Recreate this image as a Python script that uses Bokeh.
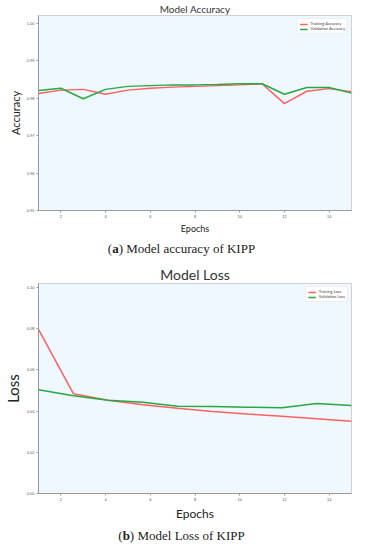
from bokeh.plotting import figure
from bokeh.layouts import column
from bokeh.models import Div, FixedTicker, Range1d, Legend
from bokeh.embed import file_html
from bokeh.resources import INLINE

# ---- data: accuracy ----
acc_epochs = [1, 2, 3, 4, 5, 6, 7, 8, 9, 10, 11, 12, 13, 14, 15]
train_acc = [0.9812, 0.9821, 0.9823, 0.9810, 0.9821, 0.9826, 0.9829, 0.9831,
             0.9833, 0.9835, 0.9838, 0.9785, 0.9818, 0.9825, 0.9817]
val_acc = [0.9820, 0.9826, 0.9798, 0.9823, 0.9831, 0.9833, 0.9835, 0.9835,
           0.9836, 0.9838, 0.9838, 0.9810, 0.9828, 0.9828, 0.9813]

# ---- data: loss ----
loss_epochs = [1, 2.56, 4.11, 5.67, 7.22, 8.78, 10.33, 11.89, 13.44, 15]
train_loss = [0.0797, 0.0485, 0.0453, 0.0431, 0.0414, 0.0398, 0.0386, 0.0375, 0.0363, 0.0351]
val_loss = [0.0504, 0.0475, 0.0453, 0.0443, 0.0424, 0.0422, 0.0419, 0.0417, 0.0437, 0.0427]

x_ticks = [2, 4, 6, 8, 10, 12, 14]
acc_ticks = [0.95, 0.96, 0.97, 0.98, 0.99, 1.00]
loss_ticks = [0.00, 0.02, 0.04, 0.06, 0.08, 0.10]

RED = "#ff6060"
GREEN = "#27a844"
BG = "#eef8fe"
FONT = "Lato"
W = 353


def make_fig(height, title, title_size, ylabel, ylabel_size, xlabel_size, yr, yticks, fmt):
    p = figure(width=W, height=height, output_backend="svg", toolbar_location=None,
               x_range=Range1d(1, 15), y_range=Range1d(*yr),
               min_border_left=2, min_border_right=2, min_border_top=2, min_border_bottom=2)
    p.title.text = title
    p.title.align = "center"
    p.title.text_font = FONT
    p.title.text_font_style = "normal"
    p.title.text_font_size = title_size
    p.title.text_color = "#333333"
    p.title.standoff = 1
    p.background_fill_color = BG
    p.border_fill_color = "white"
    p.outline_line_color = "#d0d0d0"
    p.xgrid.visible = False
    p.ygrid.visible = False
    for ax in (p.xaxis, p.yaxis):
        ax.axis_line_color = "#999999"
        ax.major_tick_line_color = "#999999"
        ax.minor_tick_line_color = None
        ax.major_tick_out = 2
        ax.major_tick_in = 0
        ax.major_label_text_font_size = "4px"
        ax.major_label_text_color = "#555555"
        ax.major_label_standoff = 2
        ax.axis_label_text_font = FONT
        ax.axis_label_text_font_style = "normal"
        ax.axis_label_text_color = "#222222"
        ax.axis_label_standoff = 2
    p.xaxis.ticker = FixedTicker(ticks=x_ticks)
    p.yaxis.ticker = FixedTicker(ticks=yticks)
    p.yaxis.major_label_overrides = {t: fmt.format(t) for t in yticks}
    p.xaxis.axis_label = "Epochs"
    p.xaxis.axis_label_text_font_size = xlabel_size
    p.yaxis.axis_label = ylabel
    p.yaxis.axis_label_text_font_size = ylabel_size
    return p


p1 = make_fig(236, "Model Accuracy", "10px", "Accuracy", "11px", "9px",
              (0.95, 1.002), acc_ticks, "{:.2f}")
r1 = p1.line(acc_epochs, train_acc, line_color=RED, line_width=1.5)
r2 = p1.line(acc_epochs, val_acc, line_color=GREEN, line_width=1.5)
leg1 = Legend(items=[("Training Accuracy", [r1]), ("Validation Accuracy", [r2])],
              location="top_right", label_text_font_size="4px", label_text_font=FONT,
              glyph_width=8, glyph_height=4, label_height=4, spacing=0, padding=2,
              margin=3, border_line_color="#dddddd", label_standoff=3)
p1.add_layout(leg1)

p2 = make_fig(260, "Model Loss", "14px", "Loss", "15px", "12px",
              (0.0, 0.102), loss_ticks, "{:.2f}")
r3 = p2.line(loss_epochs, train_loss, line_color=RED, line_width=1.5)
r4 = p2.line(loss_epochs, val_loss, line_color=GREEN, line_width=1.5)
leg2 = Legend(items=[("Training Loss", [r3]), ("Validation Loss", [r4])],
              location="top_right", label_text_font_size="4px", label_text_font=FONT,
              glyph_width=8, glyph_height=4, label_height=4, spacing=0, padding=2,
              margin=3, border_line_color="#dddddd", label_standoff=3)
p2.add_layout(leg2)

cap_style = {"text-align": "center", "width": "%dpx" % W, "font-family": "'Liberation Serif', 'DejaVu Serif', serif",
             "font-size": "13px", "color": "#222222", "line-height": "15px"}
cap1 = Div(text="(<b>a</b>) Model accuracy of KIPP", width=W, height=17, styles=cap_style)
cap2 = Div(text="(<b>b</b>) Model Loss of KIPP", width=W, height=17, styles=cap_style)

layout = column(p1, cap1, p2, cap2, spacing=0)

open("out.html", "w").write(file_html(layout, INLINE))
